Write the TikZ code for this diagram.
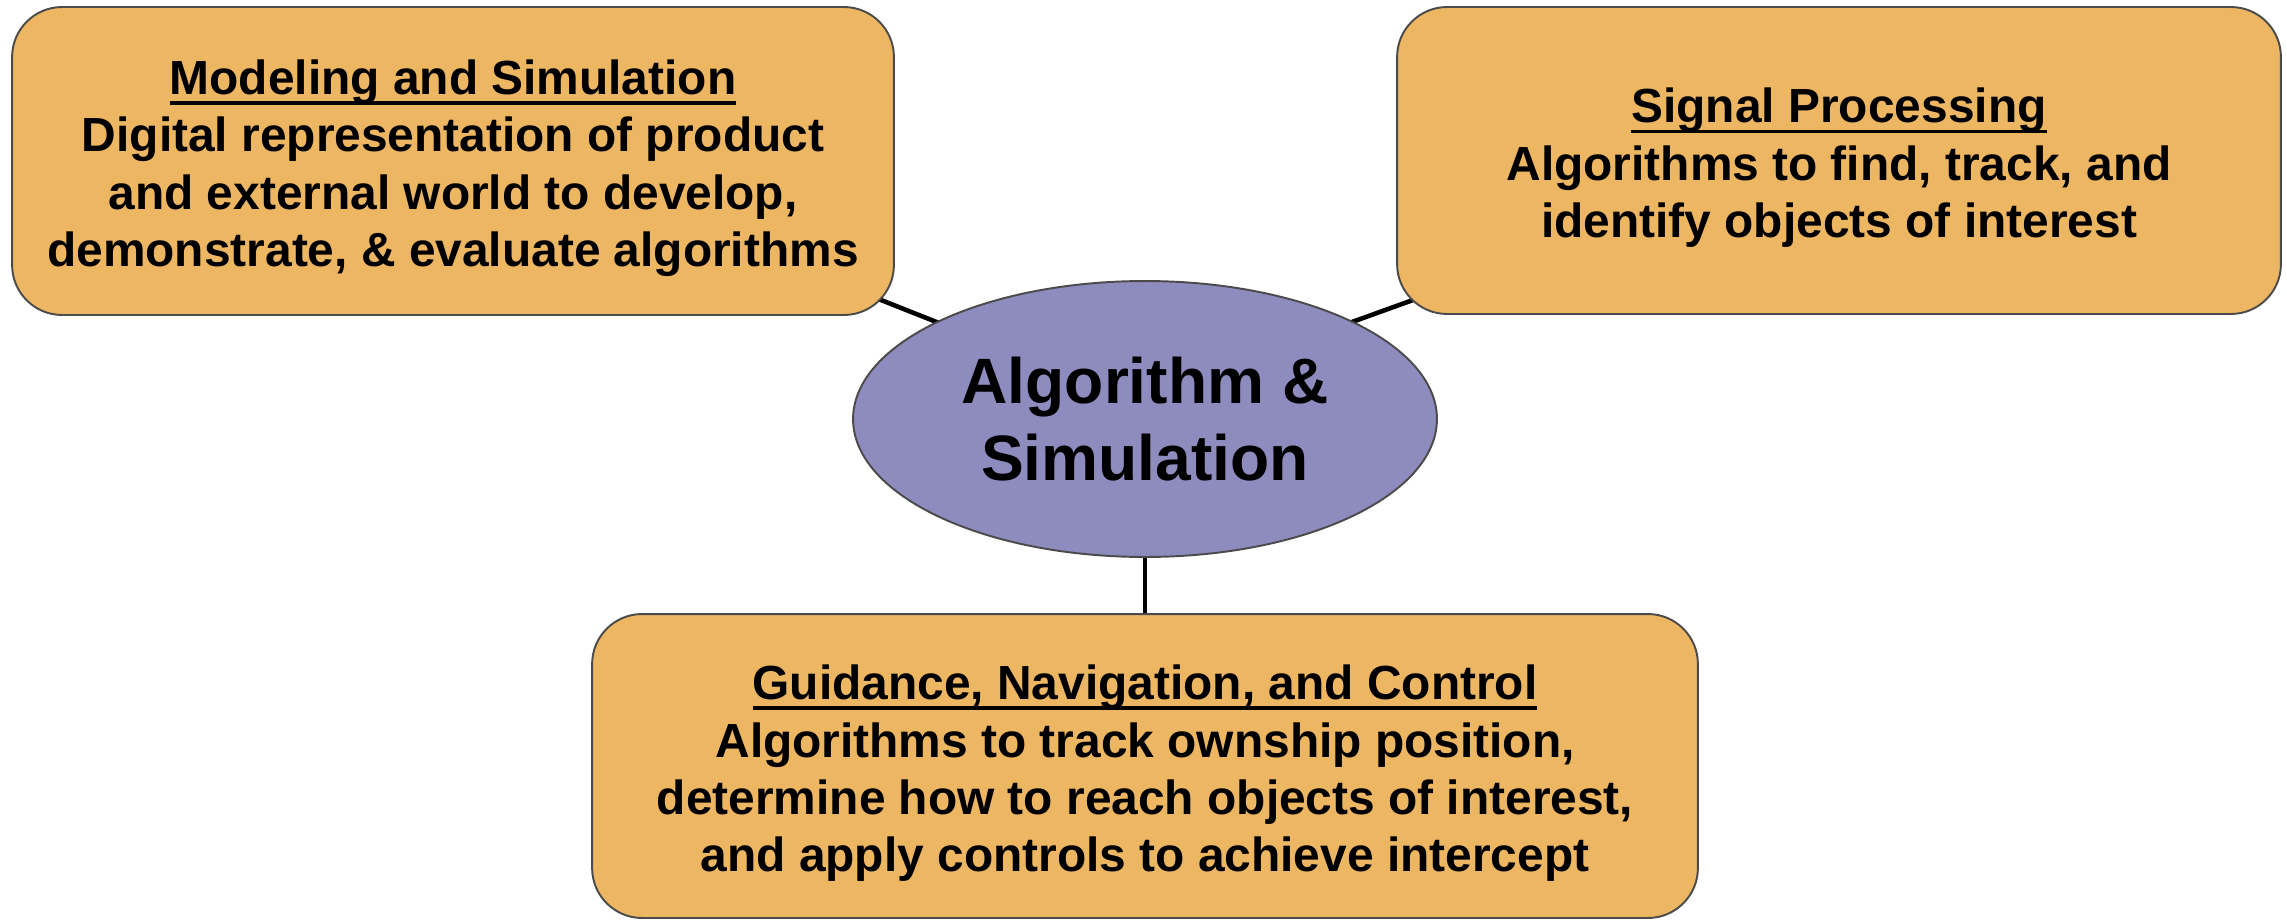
\documentclass[tikz,border=0pt]{standalone}
\usepackage{fontspec}
\setmainfont{Liberation Sans}
\usetikzlibrary{shapes.geometric,backgrounds}
\definecolor{boxfill}{RGB}{237,182,98}
\definecolor{hubfill}{RGB}{142,139,191}
\definecolor{edgegray}{RGB}{75,75,75}
% underlined heading: heavier, lower rule than \underline; the strut
% drops the whole text block a little inside its box
\newcommand\headline[1]{\rule{0pt}{1.03em}\setbox0\hbox{#1}\rlap{\rule[-0.22em]{\wd0}{0.08em}}\box0}
\begin{document}
\begin{tikzpicture}[x=0.02cm,y=-0.02cm,
  topic/.style={draw=edgegray, line width=1.1pt, fill=boxfill, rounded corners=1cm,
    align=center, inner sep=0, font=\bfseries\fontsize{27.25}{32.6}\selectfont},
  hub/.style={ellipse, draw=edgegray, line width=1.1pt, fill=hubfill,
    minimum width=11.68cm, minimum height=5.52cm, inner sep=0, align=center,
    font=\bfseries\fontsize{36.5}{44}\selectfont},
  link/.style={line width=2.6pt, black}]
\useasboundingbox (0,0) rectangle (2287,919);

\node[hub] (hub) at (1145,419) {Algorithm \&\\Simulation};

\node[topic, minimum width=17.64cm, minimum height=6.16cm] (model) at (453,161)
  {\headline{Modeling and Simulation}\\Digital representation of product\\and external world to develop,\\demonstrate, \& evaluate algorithms};

\node[topic, minimum width=17.68cm, minimum height=6.14cm] (signal) at (1839,160.5)
  {\headline{Signal Processing}\\Algorithms to find, track, and\\identify objects of interest};

\node[topic, minimum width=22.12cm, minimum height=6.08cm] (gnc) at (1145,766)
  {\headline{Guidance, Navigation, and Control}\\Algorithms to track ownship position,\\determine how to reach objects of interest,\\and apply controls to achieve intercept};

% spoke ends, tucked inside the filled shapes
\coordinate (modelEnd) at (765,254);
\coordinate (hubLeft) at (1055,369);
\coordinate (signalEnd) at (1535,256);
\coordinate (hubRight) at (1230,366);

\begin{scope}[on background layer]
  \draw[link] (modelEnd) -- (hubLeft);
  \draw[link] (signalEnd) -- (hubRight);
  \draw[link] (hub.center) -- (gnc.center);
\end{scope}
\end{tikzpicture}
\end{document}
